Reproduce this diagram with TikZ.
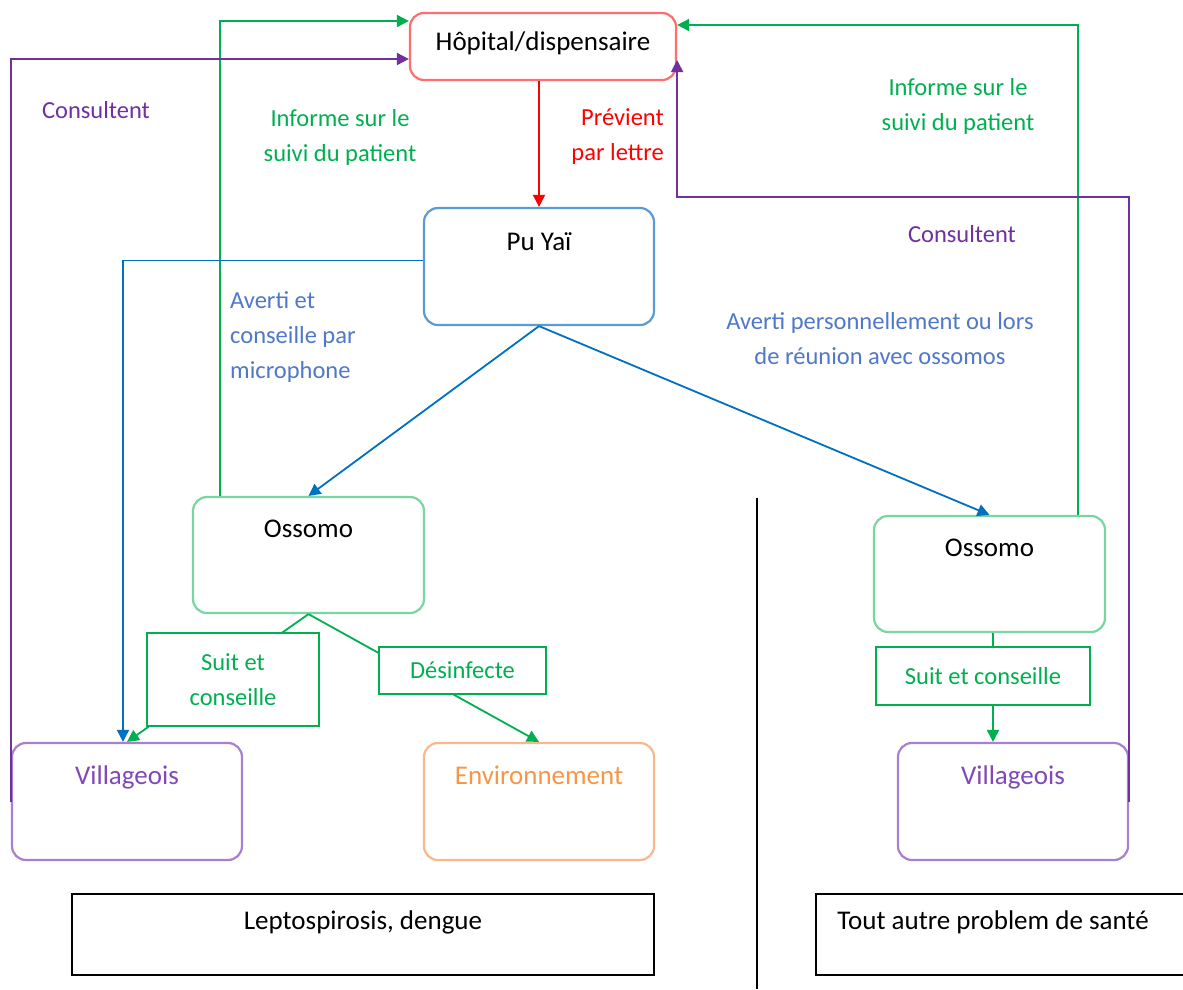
\documentclass[tikz,border=0pt]{standalone}
\usepackage{fontspec}
\setmainfont{Carlito}
\usetikzlibrary{arrows.meta,positioning}

\definecolor{vertligne}{RGB}{0,176,80}
\definecolor{vertboite}{RGB}{120,214,160}
\definecolor{violetligne}{RGB}{112,48,160}
\definecolor{violettexte}{RGB}{128,72,184}
\definecolor{violetboite}{RGB}{168,128,206}
\definecolor{bleuligne}{RGB}{0,112,192}
\definecolor{bleuboite}{RGB}{91,155,213}
\definecolor{bleutexte}{RGB}{80,120,200}
\definecolor{rougeboite}{RGB}{255,110,110}
\definecolor{orangeboite}{RGB}{248,184,140}
\definecolor{orangetexte}{RGB}{247,150,70}

\begin{document}
\begin{tikzpicture}[x=1pt, y=-1pt,
    font=\fontsize{27}{33}\selectfont,
    boite/.style={draw, rounded corners=14pt, line width=2.2pt, minimum width=230pt, minimum height=117pt, inner sep=0pt},
    cadre/.style={draw, line width=1.6pt, minimum height=81pt, inner sep=0pt},
    titre/.style={anchor=base, yshift=#1},
    titre/.default=-43pt,
    fleche/.style={-{Triangle[length=12pt,width=12pt]}, line width=1.8pt},
    etiq/.style={font=\fontsize{24.5}{35}\selectfont, inner sep=0pt},
    etiquette/.style={etiq, draw=vertligne, text=vertligne, fill=white, line width=1.8pt, align=center}]

    \path[use as bounding box, fill=white] (0,0) rectangle (1183,989);

    % les acteurs
    \node[boite, draw=rougeboite, minimum width=266pt, minimum height=67pt, label={[titre=-39pt]north:Hôpital/dispensaire}] (hopital) at (543,46.5) {};
    \node[boite, draw=bleuboite, label={[titre=-44pt]north:Pu Yaï}] (puyai) at (539,266.5) {};
    \node[boite, draw=vertboite, minimum width=231pt, minimum height=116pt, label={[titre=-42pt]north:Ossomo}] (ossomoG) at (308.5,555) {};
    \node[boite, draw=vertboite, minimum width=231pt, minimum height=116pt, label={[titre=-42pt]north:Ossomo}] (ossomoD) at (989.5,574) {};
    \node[boite, draw=violetboite, label={[titre, text=violettexte]north:Villageois}] (villG) at (127,801.5) {};
    \node[boite, draw=orangeboite, label={[titre, text=orangetexte]north:Environnement}] (environ) at (539,801.5) {};
    \node[boite, draw=violetboite, label={[titre, text=violettexte]north:Villageois}] (villD) at (1013,801.5) {};

    % les maladies
    \node[cadre, minimum width=582pt, label={[titre=-36pt]north:Leptospirosis, dengue}] (lepto) at (363,934.5) {};
    \node[cadre, minimum width=384pt] (autre) at (1008,934.5) {};
    \node[anchor=base west, inner sep=0pt] (autretxt) at ([xshift=22pt, yshift=-36pt]autre.north west) {Tout autre problem de santé};
    \draw[line width=1.4pt] (757,498) -- (757,989);

    % les liens
    \draw[fleche, red] (puyai.north |- hopital.south) -- (puyai.north);
    \draw[fleche, vertligne] ([xshift=28pt]ossomoG.north west) |- ([yshift=25.5pt]hopital.west);
    \draw[fleche, violetligne] (villG.west) |- ([yshift=-12.5pt]hopital.west);
    \draw[fleche, vertligne] ([xshift=-28pt]ossomoD.north east) |- ([yshift=21.5pt]hopital.east);
    \draw[fleche, violetligne] (villD.east) |- ([yshift=-150.5pt]hopital.east) -- ([yshift=-13.5pt]hopital.east);
    \draw[fleche, bleuligne] ([yshift=6pt]puyai.west) -| ([xshift=-4pt]villG.north);
    \draw[fleche, bleuligne] (puyai.south) -- (ossomoG.north);
    \draw[fleche, bleuligne] (puyai.south) -- (ossomoD.north);
    \draw[fleche, vertligne] (ossomoG.south) -- (villG.north);
    \draw[fleche, vertligne] (ossomoG.south) -- (environ.north);
    \draw[fleche, vertligne] ([xshift=3.5pt]ossomoD.south) -- ([xshift=3.5pt]ossomoD.south |- villD.north);

    % les textes
    \node[etiquette, minimum width=172pt, minimum height=93pt] (suitG) at (233,679.5) {Suit et\\conseille};
    \node[etiquette, minimum width=167pt, minimum height=47pt] (desinf) at (462.5,670.5) {Désinfecte};
    \node[etiquette, minimum width=214pt, minimum height=58pt] (suitD) at (983,676) {Suit et conseille};
    \node[etiq, text=violetligne] (consG) at (96,110) {Consultent};
    \node[etiq, text=vertligne, align=center] (infoG) at (340,137) {Informe sur le\\suivi du patient};
    \node[etiq, text=red, align=right, anchor=east] (previent) at (664,137) {Prévient\\par lettre};
    \node[etiq, text=vertligne, align=center] (infoD) at (958,106) {Informe sur le\\suivi du patient};
    \node[etiq, text=violetligne] (consD) at (962,234) {Consultent};
    \node[etiq, text=bleutexte, align=left, anchor=west] (micro) at (230,337) {Averti et\\conseille par\\microphone};
    \node[etiq, text=bleutexte, align=center] (reunion) at (880,339) {Averti personnellement ou lors\\de réunion avec ossomos};
\end{tikzpicture}
\end{document}
